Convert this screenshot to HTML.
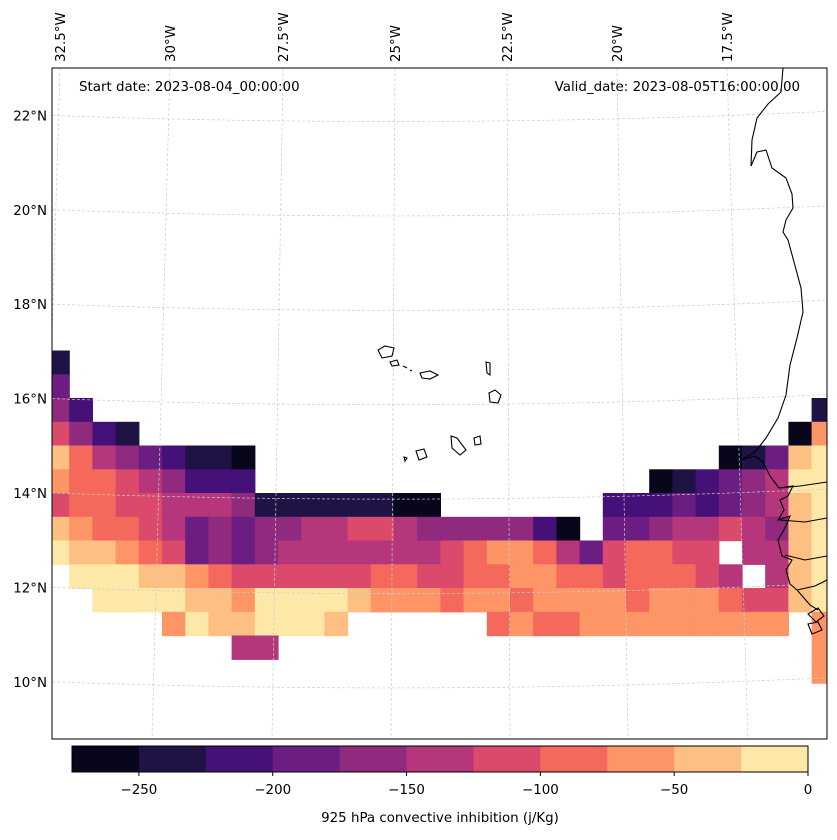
<!DOCTYPE html>
<html><head><meta charset="utf-8"><style>
html,body{margin:0;padding:0;background:#fff;}
body{width:837px;height:836px;overflow:hidden;font-family:"DejaVu Sans","Liberation Sans",sans-serif;}
svg text{font-family:"DejaVu Sans","Liberation Sans",sans-serif;font-size:13.4px;fill:#000;}
</style></head><body>
<svg id="map" width="837" height="836" viewBox="0 0 837 836" xmlns="http://www.w3.org/2000/svg">
<defs><clipPath id="frameClip"><rect x="52" y="68" width="775" height="671"/></clipPath></defs>
<g id="cells" clip-path="url(#frameClip)"></g>
<g id="grid" clip-path="url(#frameClip)"></g>
<g clip-path="url(#frameClip)" fill="none" stroke="#000" stroke-width="1.1">
<path d="M783,68 L781,92 L768,104 L757,118 L752,140 L751,166 L757,152 L766,150 L772,168 L786,178 L792,194 L793,208 L786,220 L783,232 L788,240 L794,262 L801,288 L803,312 L797,338 L790,365 L786,395 L778,418 L766,438 L755,452 L741,460"/>
<path d="M741,460 L755,456 L763,462 L770,476 L779,488 L793,486 L788,496 L780,500 L784,510 L778,520 L790,516 L785,528 L778,540 L782,556 L792,560 L786,570 L790,584 L797,590 L804,598 L810,605 L818,610"/>
<path d="M779,488 L800,486 L827,482"/><path d="M780,520 L805,522 L827,518"/><path d="M785,555 L805,560 L827,556"/><path d="M797,590 L815,586 L827,580"/>
<path d="M808,614 L818,608 L824,616 L816,622 Z"/><path d="M808,624 L818,622 L822,630 L812,634 Z"/>
<path d="M378,350 L385,346 L394,348 L392,356 L382,358 Z"/><path d="M390,362 L397,360 L399,365 L392,366 Z"/>
<path d="M403,366 L407,368"/><path d="M410,370 L412,371"/>
<path d="M420,373 L430,371 L438,375 L430,379 L422,378 Z"/><path d="M486,362 L490,363 L490,375 L487,373 Z"/>
<path d="M489,393 L495,390 L501,395 L498,403 L490,402 Z"/><path d="M451,436 L457,438 L466,450 L460,455 L452,448 Z"/>
<path d="M474,438 L480,436 L481,444 L475,445 Z"/><path d="M404,457 L407,458 L405,461 Z"/><path d="M416,451 L424,449 L427,457 L419,460 Z"/>
</g>
<rect x="52" y="68" width="775" height="671" fill="none" stroke="#000" stroke-width="1"/>
<g id="latlabels"></g>
<g id="lonlabels"></g>
<text x="79" y="91">Start date: 2023-08-04_00:00:00</text>
<text x="800" y="91" text-anchor="end">Valid_date: 2023-08-05T16:00:00.00</text>
<g id="cbar"></g>
<text x="440" y="822" text-anchor="middle">925 hPa convective inhibition (j/Kg)</text>
</svg>
<script>
// level index per 0.5° cell (-1 = no data); level i spans [-275+25i, -250+25i]
const lonStart = -32.5;
const latTop = 17;
const cellDeg = 0.5;
const levelColors = ["#07061b","#1f1345","#451077","#6b1d81","#8f2a7e","#b5367a","#dc4a6b","#f4695c","#fd9567","#febf83","#fde8a8"];
const levelBounds = [-275,-250,-225,-200,-175,-150,-125,-100,-75,-50,-25,0];
const cbTickValues = [-250,-200,-150,-100,-50,0];
const cbTickLabels = ["\u2212250","\u2212200","\u2212150","\u2212100","\u221250","0"];
const latTicks = [10,12,14,16,18,20,22];
const lonTicks = [-32.5,-30,-27.5,-25,-22.5,-20,-17.5];
const lonTickLabels = ["32.5°W","30°W","27.5°W","25°W","22.5°W","20°W","17.5°W"];
const E=-1;
const row0=[1,E,E,E,E,E,E,E,E,E,E,E,E,E,E,E,E,E,E,E,E,E,E,E,E,E,E,E,E,E,E,E,E,E];
const row1=[3,E,E,E,E,E,E,E,E,E,E,E,E,E,E,E,E,E,E,E,E,E,E,E,E,E,E,E,E,E,E,E,E,E];
const row2=[4,2,E,E,E,E,E,E,E,E,E,E,E,E,E,E,E,E,E,E,E,E,E,E,E,E,E,E,E,E,E,E,E,1];
const row3=[6,4,2,1,E,E,E,E,E,E,E,E,E,E,E,E,E,E,E,E,E,E,E,E,E,E,E,E,E,E,E,E,0,8];
const row4=[9,7,5,4,3,2,1,1,0,E,E,E,E,E,E,E,E,E,E,E,E,E,E,E,E,E,E,E,E,0,1,3,9,10];
const row5=[8,7,7,6,5,4,2,2,2,E,E,E,E,E,E,E,E,E,E,E,E,E,E,E,E,E,0,1,2,3,4,5,10,10];
const row6=[6,7,7,6,6,5,5,5,4,1,1,1,1,1,1,0,0,E,E,E,E,E,E,E,2,2,2,3,2,3,4,5,9,10];
const row7=[9,8,7,7,6,5,3,4,3,4,4,5,5,6,6,5,4,4,4,4,4,2,0,E,3,3,4,5,5,6,5,4,9,10];
const row8=[10,9,9,8,7,6,3,4,3,4,5,5,5,5,5,5,5,6,7,8,8,7,5,3,6,7,7,6,6,E,5,5,9,10];
const row9=[E,10,10,10,9,9,8,7,6,6,6,6,6,6,7,7,6,6,7,7,8,8,7,7,6,7,7,7,6,5,E,5,9,10];
const row10=[E,E,10,10,10,10,9,9,8,10,10,10,10,9,8,8,8,7,8,8,7,8,8,8,8,7,8,8,8,7,6,6,9,10];
const row11=[E,E,E,E,E,8,10,9,9,10,10,10,9,E,E,E,E,E,E,7,8,7,7,8,8,8,8,8,8,8,8,8,E,8];
const row12=[E,E,E,E,E,E,E,E,5,5,E,E,E,E,E,E,E,E,E,E,E,E,E,E,E,E,E,E,E,E,E,E,E,8];
const row13=[E,E,E,E,E,E,E,E,E,E,E,E,E,E,E,E,E,E,E,E,E,E,E,E,E,E,E,E,E,E,E,E,E,8];
const rows=[row0,row1,row2,row3,row4,row5,row6,row7,row8,row9,row10,row11,row12,row13];

const NS="http://www.w3.org/2000/svg";
function xOf(lon){return 162+(lon+30)*46.4;}
function yOf(lat){return 493-(lat-14)*47.5;}
function mk(tag,attrs,parent){const e=document.createElementNS(NS,tag);for(const k in attrs)e.setAttribute(k,attrs[k]);parent.appendChild(e);return e;}

const cells=document.getElementById('cells');
rows.forEach((row,r)=>{row.forEach((lv,c)=>{
  if(lv<0)return;
  const lon0=lonStart+c*cellDeg, lat0=latTop-r*cellDeg;
  const x0=xOf(lon0), x1=xOf(lon0+cellDeg), y0=yOf(lat0), y1=yOf(lat0-cellDeg);
  const el=mk('rect',{x:x0.toFixed(1),y:y0.toFixed(1),width:(x1-x0+0.6).toFixed(1),height:(y1-y0+0.6).toFixed(1),fill:levelColors[lv]},cells);
  
  
});});

const grid=document.getElementById('grid');
const lonTop=[60,170,283,395,507,617,727], lonBot=[40,152,272,391,510,628,748];
lonTicks.forEach((lon,i)=>{
  const l=mk('line',{x1:lonTop[i],y1:68,x2:lonBot[i],y2:739,stroke:"#ccc","stroke-width":0.7,"stroke-dasharray":"3,2"},grid);
  
  
  const t=mk('text',{x:0,y:0,transform:`translate(${lonTop[i]+5},62) rotate(-90)`},document.getElementById('lonlabels'));
  t.textContent=lonTickLabels[i];
  
  
});
latTicks.forEach(lat=>{
  const y=yOf(lat)+ (lat-14)*0.3;
  const p=mk('path',{d:`M52,${y} Q440,${y+14} 827,${y-4}`,fill:"none",stroke:"#ccc","stroke-width":0.7,"stroke-dasharray":"3,2"},grid);
  
  
  const t=mk('text',{x:47,y:y+5,"text-anchor":"end"},document.getElementById('latlabels'));
  t.textContent=lat+"°N";
  
  
});

const cbar=document.getElementById('cbar');
const cbx0=72,cbx1=808,cby=746,cbh=26;
function cbX(v){return cbx0+(v-levelBounds[0])/(levelBounds[levelBounds.length-1]-levelBounds[0])*(cbx1-cbx0);}
levelColors.forEach((col,i)=>{
  const r=mk('rect',{x:cbX(levelBounds[i]),y:cby,width:cbX(levelBounds[i+1])-cbX(levelBounds[i])+0.5,height:cbh,fill:col},cbar);
  
  
});
mk('rect',{x:cbx0,y:cby,width:cbx1-cbx0,height:cbh,fill:"none",stroke:"#000","stroke-width":1},cbar);
cbTickValues.forEach((v,i)=>{
  const x=cbX(v);
  mk('line',{x1:x,y1:cby+cbh,x2:x,y2:cby+cbh+4,stroke:"#000"},cbar);
  const t=mk('text',{x:x,y:794,"text-anchor":"middle"},cbar);
  t.textContent=cbTickLabels[i];
  
  
});
</script>
</body></html>
